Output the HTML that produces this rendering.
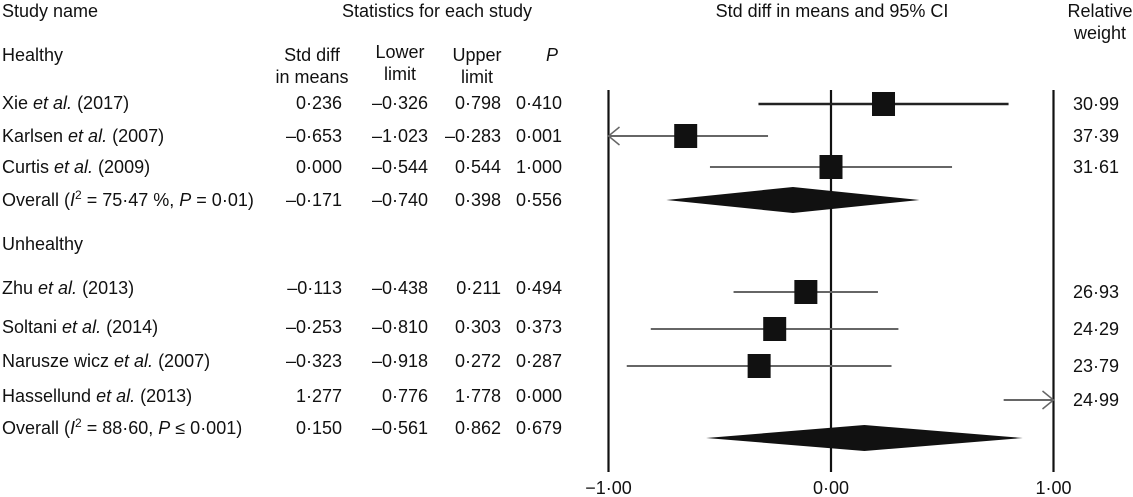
<!DOCTYPE html>
<html><head><meta charset="utf-8"><style>
body{margin:0;background:#fff}
svg{display:block;font-family:"Liberation Sans",sans-serif;font-size:18px;fill:#111}
</style></head><body>
<svg id="chart" width="1133" height="497" viewBox="0 0 1133 497">
<g id="text" fill="#111"></g>
<g id="marks"></g>
</svg>
<script>
const studies=["Xie","Karlsen","Curtis","Overall1","Zhu","Soltani","Narusze","Hassellund","Overall2"];
const labels=["Xie <tspan font-style='italic'>et al.</tspan> (2017)","Karlsen <tspan font-style='italic'>et al.</tspan> (2007)","Curtis <tspan font-style='italic'>et al.</tspan> (2009)","Overall (<tspan font-style='italic'>I</tspan><tspan dy='-7' font-size='12'>2</tspan><tspan dy='7'> = 75·47 %, </tspan><tspan font-style='italic'>P</tspan> = 0·01)","Zhu <tspan font-style='italic'>et al.</tspan> (2013)","Soltani <tspan font-style='italic'>et al.</tspan> (2014)","Narusze wicz <tspan font-style='italic'>et al.</tspan> (2007)","Hassellund <tspan font-style='italic'>et al.</tspan> (2013)","Overall (<tspan font-style='italic'>I</tspan><tspan dy='-7' font-size='12'>2</tspan><tspan dy='7'> = 88·60, </tspan><tspan font-style='italic'>P</tspan> ≤ 0·001)"];
const effect=[0.236,-0.653,0.000,-0.171,-0.113,-0.253,-0.323,1.277,0.150];
const lower=[-0.326,-1.023,-0.544,-0.740,-0.438,-0.810,-0.918,0.776,-0.561];
const upper=[0.798,-0.283,0.544,0.398,0.211,0.303,0.272,1.778,0.862];
const pvals=["0·410","0·001","1·000","0·556","0·494","0·373","0·287","0·000","0·679"];
const weights=["30·99","37·39","31·61","","26·93","24·29","23·79","24·99",""];
const isOverall=[false,false,false,true,false,false,false,false,true];
const rowY=[104,136,167,200,292,329,366,400,438];
const textY=[103,136,167,200,288,327,361,396,428];
const ticks=[-1,0,1];
const tickLabels=["−1·00","0·00","1·00"];

const NS="http://www.w3.org/2000/svg";
const X=v=>831+v*222.5;
const XMIN=-1,XMAX=1;
const tg=document.getElementById('text'),mg=document.getElementById('marks');
function fmt(v){return (v<0?"–":"")+Math.abs(v).toFixed(3).replace('.','·');}
function txt(x,y,s,anchor,name){const t=document.createElementNS(NS,'text');t.setAttribute('x',x);t.setAttribute('y',y);t.setAttribute('text-anchor',anchor||'start');t.innerHTML=s;


tg.appendChild(t);return t;}
function el(tag,attrs,name){const e=document.createElementNS(NS,tag);for(const k in attrs)e.setAttribute(k,attrs[k]);


mg.appendChild(e);return e;}
txt(2,17,"Study name","start","study-name-header");
txt(437,17,"Statistics for each study","middle","statistics-header");
txt(832,17,"Std diff in means and 95% CI","middle","plot-header");
txt(1100,17,"Relative","middle","weight-header");
txt(1100,39,"weight","middle","weight-header-2");
txt(2,61,"Healthy","start","healthy-group-label");
txt(2,250,"Unhealthy","start","unhealthy-group-label");
txt(312,61,"Std diff","middle","col-header-std-diff");
txt(312,83,"in means","middle","col-header-in-means");
txt(400,58,"Lower","middle","col-header-lower");
txt(400,80,"limit","middle","col-header-lower-2");
txt(477,61,"Upper","middle","col-header-upper");
txt(477,83,"limit","middle","col-header-upper-2");
txt(552,61,"<tspan font-style='italic'>P</tspan>","middle","col-header-p");
el('line',{x1:X(-1),x2:X(-1),y1:90,y2:472,stroke:'#111','stroke-width':2.2},'left-bound-line');
el('line',{x1:X(0),x2:X(0),y1:90,y2:472,stroke:'#111','stroke-width':2.2},'zero-line');
el('line',{x1:X(1),x2:X(1),y1:90,y2:472,stroke:'#111','stroke-width':2.2},'right-bound-line');
ticks.forEach((t,i)=>txt(X(t),494,tickLabels[i],'middle','x-tick-label'));
studies.forEach((s,i)=>{
 const y=rowY[i],ty=textY[i]+6;
 txt(2,ty,labels[i],'start','study-label-'+s);
 txt(342,ty,fmt(effect[i]),'end','effect-'+s);
 txt(428,ty,fmt(lower[i]),'end','lower-'+s);
 txt(501,ty,fmt(upper[i]),'end','upper-'+s);
 txt(562,ty,pvals[i],'end','p-value-'+s);
 if(weights[i]) txt(1073,y+6,weights[i],'start','weight-'+s);
 if(isOverall[i]){
  const h=13;
  el('polygon',{points:`${X(lower[i])},${y} ${X(effect[i])},${y-h} ${X(upper[i])},${y} ${X(effect[i])},${y+h}`,fill:'#111'},'diamond-'+s);
  return;
 }
 const lo=Math.max(lower[i],XMIN),hi=Math.min(upper[i],XMAX);
 const col=i===0?'#222':'#666';
 el('line',{x1:X(lo),x2:X(hi),y1:y,y2:y,stroke:col,'stroke-width':i===0?2.5:2},'ci-'+s);
 if(lower[i]<XMIN) el('polyline',{points:`${X(XMIN)+11},${y-9} ${X(XMIN)},${y} ${X(XMIN)+11},${y+9}`,fill:'none',stroke:'#666','stroke-width':1.5},'arrow-'+s);
 if(upper[i]>XMAX) el('polyline',{points:`${X(XMAX)-11},${y-9} ${X(XMAX)},${y} ${X(XMAX)-11},${y+9}`,fill:'none',stroke:'#666','stroke-width':1.5},'arrow-'+s);
 if(effect[i]>=XMIN&&effect[i]<=XMAX) el('rect',{x:X(effect[i])-11.5,y:y-12,width:23,height:24,fill:'#111'},'square-'+s);
});
</script>
</body></html>
